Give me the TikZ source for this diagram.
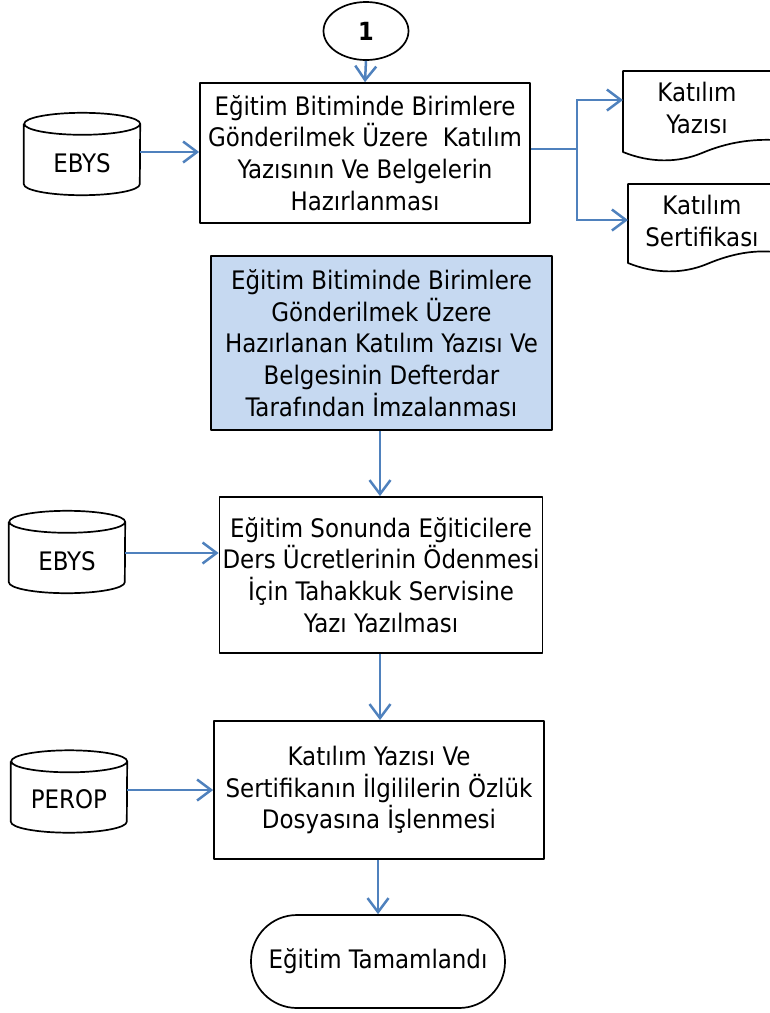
\documentclass[tikz,border=0pt]{standalone}
\usepackage{fontspec}
\setmainfont{DejaVu Sans Condensed}
\usetikzlibrary{arrows.meta,shapes.geometric}
\definecolor{arrowblue}{HTML}{4F81BD}
\definecolor{boxblue}{HTML}{C6D9F1}
\newcommand\drawcyl[1]{%
  \path (#1.north west) ++(0,-11pt) coordinate (#1-tl);
  \path (#1.north east) ++(0,-11pt) coordinate (#1-tr);
  \path (#1.south west) ++(0,11pt) coordinate (#1-bl);
  \draw[frame] (#1-tl) -- (#1-bl) arc[start angle=180,end angle=360,x radius=58pt,y radius=11pt]
     -- (#1-tr) arc[start angle=0,end angle=360,x radius=58pt,y radius=11pt];}
\begin{document}
\begin{tikzpicture}[x=1pt,y=-1pt,
  frame/.style={draw=black,line width=1.7pt,line join=round},
  txt/.style={font=\fontsize{25.5}{31.7}\selectfont,align=center,inner sep=0pt},
  procbox/.style={frame,txt,rectangle},
  dbnode/.style={txt,rectangle,minimum width=116pt,minimum height=82pt},
  arr/.style={draw=arrowblue,line width=2.5pt,-{Straight Barb[length=14pt,width=21pt,line width=2.5pt]}},
  bline/.style={draw=arrowblue,line width=2.5pt}]
\useasboundingbox (0,0) rectangle (770,1013);
% connector circle
\node[frame,ellipse,minimum width=85pt,minimum height=58pt,inner sep=0pt,font=\fontsize{25}{28}\selectfont\bfseries] (c1) at (366,31) {1};
% box 1
\node[procbox,minimum width=330pt,minimum height=140pt] (b1) at (365,153)
  {Eğitim Bitiminde Birimlere\\Gönderilmek Üzere\ \ Katılım\\Yazısının Ve Belgelerin\\Hazırlanması};
% blue box
\node[procbox,fill=boxblue,minimum width=341pt,minimum height=174pt] (b2) at (381.5,343)
  {Eğitim Bitiminde Birimlere\\Gönderilmek Üzere\\Hazırlanan Katılım Yazısı Ve\\Belgesinin Defterdar\\Tarafından İmzalanması};
% box 3
\node[procbox,minimum width=323pt,minimum height=156pt] (b3) at (381,575)
  {Eğitim Sonunda Eğiticilere\\Ders Ücretlerinin Ödenmesi\\İçin Tahakkuk Servisine\\Yazı Yazılması};
% box 4
\node[procbox,minimum width=330pt,minimum height=138pt] (b4) at (379,790)
  {Katılım Yazısı Ve\\Sertifikanın İlgililerin Özlük\\Dosyasına İşlenmesi};
% terminal
\node[procbox,rounded corners=46pt,minimum width=254pt,minimum height=93pt] (t) at (378,961.5)
  {Eğitim Tamamlandı};
% databases
\node[dbnode] (e1) at (82,154) {};
\drawcyl{e1}
\node[txt] at (82,163) {EBYS};
\node[dbnode] (e2) at (67,552) {};
\drawcyl{e2}
\node[txt] at (67,561) {EBYS};
\node[dbnode] (p1) at (69,791.5) {};
\drawcyl{p1}
\node[txt] at (69,799) {PEROP};
% documents
\draw[frame] (775,71) -- (623,71) -- (623,152) .. controls (650,163) and (678,163) .. (702,153)
   .. controls (728,142) and (752,139) .. (775,140);
\node[txt] (d1) at (697,108) {Katılım\\Yazısı};
\draw[frame] (775,184) -- (628,184) -- (628,263) .. controls (655,274) and (683,274) .. (707,264)
   .. controls (733,253) and (755,250) .. (775,252);
\node[txt] (d2) at (702,221) {Katılım\\Sertifikası};
\coordinate (d1w) at (623,100);
\coordinate (d2w) at (628,220);
\coordinate (br) at (577,149);
% connectors
\draw[arr] (c1.south) -- (b1.north);
\draw[arr] (e1.east |- 0,152) -- (b1.west |- 0,152);
\draw[bline] (b1.east |- br) -- (br);
\draw[arr] (br) |- (d1w);
\draw[arr] (br) |- (d2w);
\draw[arr] (b2.south -| 380,0) -- (b3.north -| 380,0);
\draw[arr] (b3.south -| 380,0) -- (b4.north -| 380,0);
\draw[arr] (e2.east |- 0,553) -- (b3.west |- 0,553);
\draw[arr] (p1.east |- 0,790) -- (b4.west |- 0,790);
\draw[arr] (b4.south -| 378,0) -- (t.north -| 378,0);
\end{tikzpicture}
\end{document}
